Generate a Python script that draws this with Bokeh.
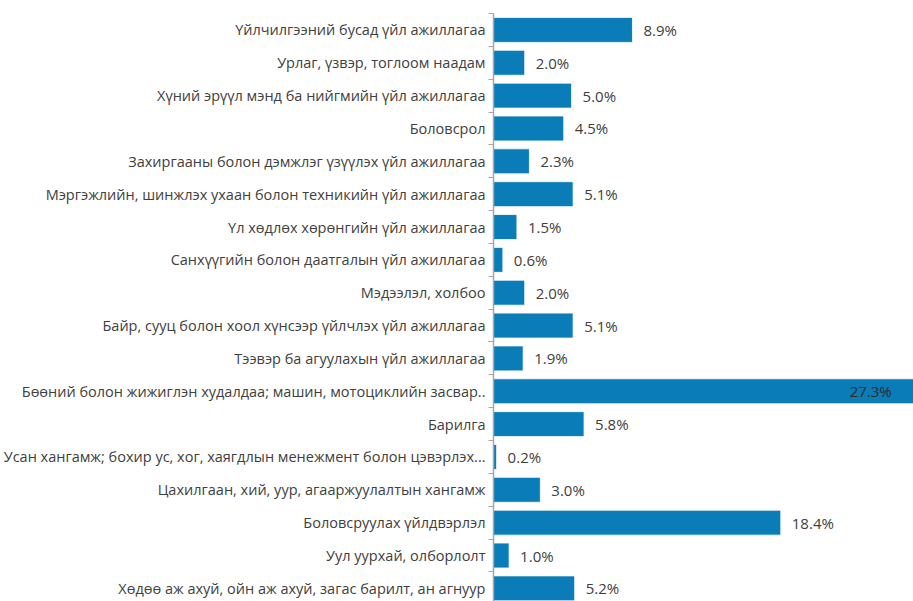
from bokeh.plotting import figure
from bokeh.models import ColumnDataSource, Range1d, FixedTicker
from bokeh.embed import file_html
from bokeh.resources import INLINE
from bokeh.core.properties import value

categories = [
    "Үйлчилгээний бусад үйл ажиллагаа",
    "Урлаг, үзвэр, тоглоом наадам",
    "Хүний эрүүл мэнд ба нийгмийн үйл ажиллагаа",
    "Боловсрол",
    "Захиргааны болон дэмжлэг үзүүлэх үйл ажиллагаа",
    "Мэргэжлийн, шинжлэх ухаан болон техникийн үйл ажиллагаа",
    "Үл хөдлөх хөрөнгийн үйл ажиллагаа",
    "Санхүүгийн болон даатгалын үйл ажиллагаа",
    "Мэдээлэл, холбоо",
    "Байр, сууц болон хоол хүнсээр үйлчлэх үйл ажиллагаа",
    "Тээвэр ба агуулахын үйл ажиллагаа",
    "Бөөний болон жижиглэн худалдаа; машин, мотоциклийн засвар..",
    "Барилга",
    "Усан хангамж; бохир ус, хог, хаягдлын менежмент болон цэвэрлэх...",
    "Цахилгаан, хий, уур, агааржуулалтын хангамж",
    "Боловсруулах үйлдвэрлэл",
    "Уул уурхай, олборлолт",
    "Хөдөө аж ахуй, ойн аж ахуй, загас барилт, ан агнуур",
]
shares = [8.9, 2.0, 5.0, 4.5, 2.3, 5.1, 1.5, 0.6, 2.0, 5.1, 1.9, 27.3, 5.8, 0.2, 3.0, 18.4, 1.0, 5.2]

FONT = "Open Sans"
BAR = "#0a7db8"
TXT = "#404040"
X_END = 26.9

idx = list(range(len(categories)))
labels = [f"{v:.1f}%" for v in shares]

src = ColumnDataSource(dict(y=idx, v=shares, lab=labels))
out_i = [i for i in idx if shares[i] <= X_END - 2]
in_i = [i for i in idx if shares[i] > X_END - 2]
src_out = ColumnDataSource(dict(y=[idx[i] for i in out_i], v=[shares[i] for i in out_i], lab=[labels[i] for i in out_i]))
src_in = ColumnDataSource(dict(y=[idx[i] for i in in_i], v=[shares[i] for i in in_i], lab=[labels[i] for i in in_i]))

p = figure(width=913, height=601, output_backend="svg", toolbar_location=None,
           x_range=Range1d(0, X_END), y_range=Range1d(17.4, -0.5),
           min_border_left=491, min_border_right=0, min_border_top=13, min_border_bottom=0)
p.outline_line_color = None
p.xgrid.visible = False
p.ygrid.visible = False
p.xaxis.visible = False

p.hbar(y="y", left=0, right="v", height=0.76, source=src, fill_color=BAR,
       line_color="#ffffff", line_width=0.8)

p.text(x="v", y="y", text="lab", source=src_out, x_offset=11, text_align="left",
       text_baseline="middle", text_font=value(FONT), text_font_size="15px", text_color=TXT)
p.text(x="v", y="y", text="lab", source=src_in, x_offset=-28, text_align="right",
       text_baseline="middle", text_font=value(FONT), text_font_size="15px", text_color="#2b2b2b")

ya = p.yaxis[0]
ya.ticker = FixedTicker(ticks=idx, minor_ticks=[i - 0.5 for i in range(len(categories) + 1)])
ya.major_label_overrides = {i: c for i, c in zip(idx, categories)}
ya.major_tick_line_color = None
ya.major_tick_out = 0
ya.major_tick_in = 0
ya.minor_tick_line_color = "#a6a6a6"
ya.minor_tick_out = 5
ya.minor_tick_in = 0
ya.axis_line_color = "#a6a6a6"
ya.axis_line_width = 1.5
ya.major_label_standoff = 3
ya.major_label_text_font = FONT
ya.major_label_text_font_size = "14.5px"
ya.major_label_text_color = TXT

open("out.html", "w").write(file_html(p, INLINE))
